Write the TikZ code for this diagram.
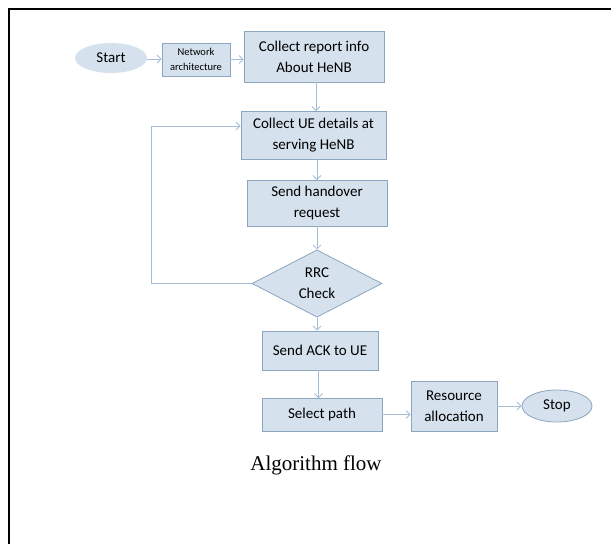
\documentclass[tikz,border=0pt]{standalone}
\usepackage{fontspec}
\setmainfont{Carlito}
\newfontfamily\capfont{Liberation Serif}
\usetikzlibrary{shapes.geometric,arrows.meta}
\definecolor{boxfill}{HTML}{D5E1EC}
\definecolor{boxline}{HTML}{8CA6BF}
\definecolor{flowline}{HTML}{A3BDD6}
\tikzset{
	stepbox/.style={draw=boxline,fill=boxfill,thick,align=center,inner sep=0pt,font=\fontsize{15}{21}\selectfont},
	term/.style={ellipse,fill=boxfill,inner sep=0pt,font=\fontsize{15}{18}\selectfont},
	flow/.style={draw=flowline,thick,-{Straight Barb[length=4pt,width=8pt]}}
}
\begin{document}
\begin{tikzpicture}[x=1pt,y=-1pt]
		\useasboundingbox (0,0) rectangle (611,544);
		\draw[line width=2pt] (9,544) -- (9,9) -- (611,9);
		
		\node[term,minimum width=72pt,minimum height=30pt] (start) at (111,58) {Start};
		\node[stepbox,minimum width=68pt,minimum height=33pt,font=\fontsize{10.5}{15}\selectfont] 
		(net) at (196,59.5) {Network\\architecture};
		\node[stepbox,minimum width=140pt,minimum height=51pt] (report) at (314,56.5) 
		{Collect report info\\About HeNB};
		\node[stepbox,minimum width=145pt,minimum height=48pt] (ue) at (313.5,135) 
		{Collect UE details at\\serving HeNB};
		\node[stepbox,minimum width=140pt,minimum height=46pt] (handover) at (317,203) 
		{Send handover\\request};
		\node[stepbox,diamond,minimum width=130pt,minimum height=61pt] (rrc) at (317,283.5) 
		{RRC\\Check};
		\node[stepbox,minimum width=116pt,minimum height=39pt] (ack) at (320,350.5) 
		{Send ACK to UE};
		\node[stepbox,minimum width=120pt,minimum height=33pt] (path) at (322,414.5) 
		{Select path};
		\node[stepbox,minimum width=86pt,minimum height=50pt] (alloc) at (454,406) 
		{Resource\\allocation};
		\node[term,draw=boxline,thick,minimum width=70pt,minimum height=32pt] (stop) at (557,406) 
		{Stop};
		\node[font=\capfont\fontsize{21}{24}\selectfont] (caption) at (316,465) {Algorithm flow};
		
		\draw[flow] (start.east |- 0,59) -- (net.west |- 0,59);
		\draw[flow] (net.east) -- (net.east -| report.west);
		\draw[flow] (316,82) -- (316,111);
		\draw[flow] (317,159) -- (317,180);
		\draw[flow] (317,226) -- (rrc.north);
		\draw[flow] (rrc.south) -- (rrc.south |- ack.north);
		\draw[flow] (318.5,370) -- (318.5,398);
		\draw[flow] (path.east) -- (path.east -| alloc.west);
		\draw[flow] (alloc.east |- stop.west) -- (stop.west);
		\draw[flow] (rrc.west) -- (151,283.5) -- (151,126) -- (ue.west |- 0,126);
		\end{tikzpicture}
\end{document}
